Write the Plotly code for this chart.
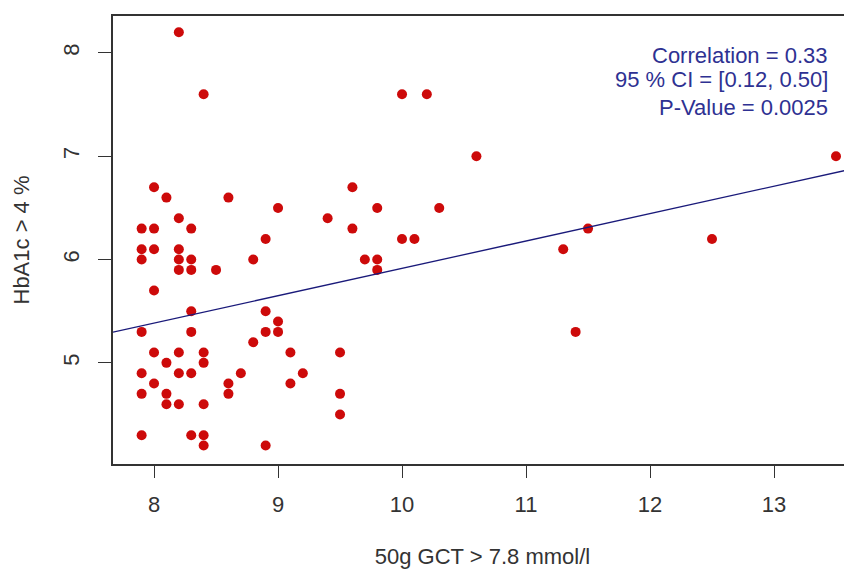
import plotly.graph_objects as go

# Data
gct = [8.2, 8.4, 8.0, 8.1, 8.6, 9.0, 8.2, 7.9, 8.0, 8.3, 8.9, 7.9, 8.0, 8.2, 7.9, 8.2, 8.3, 8.8,
       8.2, 8.3, 8.5, 8.0, 8.3, 8.9, 9.0, 7.9, 8.3, 8.9, 9.0, 8.8, 8.0, 8.2, 8.4, 9.1, 8.1, 8.4,
       7.9, 8.2, 8.3, 8.7, 9.2, 8.0, 8.6, 9.1, 7.9, 8.1, 8.6, 8.1, 8.2, 8.4, 7.9, 8.3, 8.4, 8.4,
       8.9, 10.0, 10.2, 10.6, 9.6, 9.8, 10.3, 9.4, 9.6, 10.0, 10.1, 9.7, 9.8, 9.8, 11.3, 9.5,
       9.5, 9.5, 13.5, 11.5, 12.5, 11.4]
hba1c = [8.2, 7.6, 6.7, 6.6, 6.6, 6.5, 6.4, 6.3, 6.3, 6.3, 6.2, 6.1, 6.1, 6.1, 6.0, 6.0, 6.0, 6.0,
         5.9, 5.9, 5.9, 5.7, 5.5, 5.5, 5.4, 5.3, 5.3, 5.3, 5.3, 5.2, 5.1, 5.1, 5.1, 5.1, 5.0, 5.0,
         4.9, 4.9, 4.9, 4.9, 4.9, 4.8, 4.8, 4.8, 4.7, 4.7, 4.7, 4.6, 4.6, 4.6, 4.3, 4.3, 4.3, 4.2,
         4.2, 7.6, 7.6, 7.0, 6.7, 6.5, 6.5, 6.4, 6.3, 6.2, 6.2, 6.0, 6.0, 5.9, 6.1, 5.1,
         4.7, 4.5, 7.0, 6.3, 6.2, 5.3]

fit_intercept = 3.265
fit_slope = 0.265

x_ticks = [8, 9, 10, 11, 12, 13]
y_ticks = [5, 6, 7, 8]
x_range = [7.669, 13.629]
y_range = [4.021, 8.358]

stats_lines = ["Correlation = 0.33", "95 % CI = [0.12, 0.50]", "P-Value = 0.0025"]
stats_y = [7.98, 7.74, 7.47]
stats_x = 13.45

font_family = "Liberation Sans, Arial, sans-serif"
text_col = "#333333"

fig = go.Figure()
fig.add_trace(go.Scatter(
    x=gct, y=hba1c, mode="markers",
    marker=dict(color="#CD0A0A", size=10, line=dict(width=0)),
    showlegend=False, hoverinfo="x+y", cliponaxis=False))

fit_x = list(x_range)
fit_y = [fit_intercept + fit_slope * v for v in fit_x]
fig.add_trace(go.Scatter(
    x=fit_x, y=fit_y, mode="lines",
    line=dict(color="#1a1a7a", width=1.3),
    showlegend=False, hoverinfo="skip"))

for txt, yy in zip(stats_lines, stats_y):
    fig.add_annotation(x=stats_x, y=yy, xref="x", yref="y", text=txt,
                       showarrow=False, xanchor="right", yanchor="middle",
                       font=dict(family=font_family, size=22, color="#2E3192"))

# the page adds an 8px body margin, so the figure is 8px smaller and shifted
fig.update_layout(
    width=844, height=564,
    margin=dict(l=105, r=0, t=8, b=108),
    paper_bgcolor="white", plot_bgcolor="white",
    font=dict(family=font_family, size=22, color=text_col),
    xaxis=dict(
        range=x_range, tickvals=x_ticks, ticktext=[str(t) for t in x_ticks],
        showgrid=False, zeroline=False,
        showline=True, linecolor="#333333", linewidth=1.5, mirror=True,
        ticks="outside", ticklen=12, tickcolor="#333333", tickwidth=1.3,
        ticklabelstandoff=8,
        tickfont=dict(size=22, color=text_col),
        title=dict(text="50g GCT > 7.8 mmol/l", standoff=32,
                   font=dict(size=22, color=text_col)),
        automargin=False,
    ),
    yaxis=dict(
        range=y_range, tickvals=y_ticks, ticktext=[str(t) for t in y_ticks],
        showgrid=False, zeroline=False,
        showline=True, linecolor="#333333", linewidth=1.5, mirror=False,
        ticks="outside", ticklen=13, tickcolor="#333333", tickwidth=1.3,
        tickangle=-90, ticklabelstandoff=10,
        tickfont=dict(size=22, color=text_col),
        title=dict(text="HbA1c > 4 %", standoff=24,
                   font=dict(size=22, color=text_col)),
        automargin=False,
    ),
)

fig.write_html("out.html")
